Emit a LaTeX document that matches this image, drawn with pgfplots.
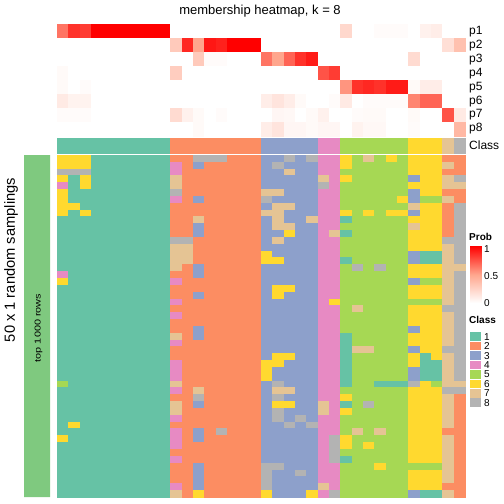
\documentclass[border=0pt]{standalone}
\usepackage{pgfplots}
\pgfplotsset{compat=1.18}
\usepackage{pgfplotstable}
\usepackage{graphicx}
\usepackage{fontspec}
\setmainfont{Liberation Sans}
\definecolor{k1}{RGB}{102,194,165}
\definecolor{k2}{RGB}{252,141,98}
\definecolor{k3}{RGB}{141,160,203}
\definecolor{k4}{RGB}{231,138,195}
\definecolor{k5}{RGB}{166,216,84}
\definecolor{k6}{RGB}{255,217,47}
\definecolor{k7}{RGB}{229,196,148}
\definecolor{k8}{RGB}{179,179,179}
\definecolor{barg}{RGB}{127,201,127}

% membership probabilities: rows p1..p8, columns = samples
\pgfplotstableread{
c0 c1 c2 c3 c4 c5 c6 c7 c8 c9 c10 c11 c12 c13 c14 c15 c16 c17 c18 c19 c20 c21 c22 c23 c24 c25 c26 c27 c28 c29 c30 c31 c32 c33 c34 c35
0.65 0.85 0.82 1 1 1 1 1 1 1 0 0 0 0 0 0 0 0 0 0 0 0 0 0 0 0.22 0 0 0.02 0.02 0.02 0 0.08 0.1 0 0
0 0 0 0 0 0 0 0 0 0 0.3 0.88 0.5 0.93 0.9 1 1 1 0 0 0 0 0 0 0 0 0 0 0 0 0 0 0 0 0.18 0.35
0 0 0 0 0 0 0 0 0 0 0 0 0.3 0.02 0.02 0 0 0 0.65 0.5 0.7 0.85 0.92 0 0 0 0 0 0 0 0 0.2 0 0 0 0
0.03 0 0 0 0 0 0 0 0 0 0.28 0 0 0 0 0 0 0 0 0 0 0 0 0.75 0.82 0 0 0 0 0 0 0 0 0 0 0
0.03 0 0.02 0 0 0 0 0 0 0 0 0 0 0 0 0 0 0 0 0 0 0 0 0 0 0.55 0.85 0.88 0.85 0.92 0.92 0.03 0.1 0.1 0 0
0.12 0.07 0.07 0 0 0 0 0 0 0 0 0 0 0 0 0 0 0 0.1 0.15 0.1 0.03 0 0 0.02 0.12 0 0.02 0.02 0.02 0.02 0.6 0.7 0.7 0 0
0.02 0.02 0.02 0 0 0 0 0 0 0 0.2 0.08 0.03 0 0.02 0 0 0 0 0.05 0.04 0 0.03 0.08 0 0 0.02 0.03 0.03 0 0 0.03 0 0 0.75 0.12
0 0 0 0 0 0 0 0 0 0 0 0 0.03 0 0 0 0 0 0.1 0.15 0.05 0.05 0.03 0.05 0.05 0 0.07 0.04 0.04 0 0 0.02 0 0 0 0.4
}\probtab

% final class of each sample
\pgfplotstableread{
i k
0 1
1 1
2 1
3 1
4 1
5 1
6 1
7 1
8 1
9 1
10 2
11 2
12 2
13 2
14 2
15 2
16 2
17 2
18 3
19 3
20 3
21 3
22 3
23 4
24 4
25 5
26 5
27 5
28 5
29 5
30 5
31 6
32 6
33 6
34 7
35 8
}\classrow

% class in each of 50 random samplings (rows) for each sample (columns)
\pgfplotstableread{
c0 c1 c2 c3 c4 c5 c6 c7 c8 c9 c10 c11 c12 c13 c14 c15 c16 c17 c18 c19 c20 c21 c22 c23 c24 c25 c26 c27 c28 c29 c30 c31 c32 c33 c34 c35
6 6 6 1 1 1 1 1 1 1 2 2 8 8 8 2 2 2 3 3 8 3 8 4 4 6 5 7 5 6 5 6 6 6 2 2
6 6 6 1 1 1 1 1 1 1 4 2 3 2 2 2 2 2 3 8 3 3 3 4 4 6 5 5 5 5 5 6 6 6 7 2
8 8 8 1 1 1 1 1 1 1 4 2 2 2 2 2 2 2 3 3 7 3 3 4 4 5 5 5 5 5 5 6 6 6 2 2
6 1 6 1 1 1 1 1 1 1 7 2 2 2 2 2 2 2 3 3 3 3 3 7 4 6 5 5 5 5 5 3 6 6 7 8
4 1 6 1 1 1 1 1 1 1 7 2 2 2 2 2 2 2 3 3 3 3 3 8 4 5 5 5 5 5 5 6 6 6 7 7
6 1 1 1 1 1 1 1 1 1 8 2 2 2 2 2 2 2 7 7 3 3 3 4 4 5 5 5 5 5 5 3 6 6 2 2
6 1 1 1 1 1 1 1 1 1 4 2 3 2 2 2 2 2 8 3 3 3 3 4 4 5 5 5 5 5 6 3 5 5 7 2
6 6 1 1 1 1 1 1 1 1 2 2 2 2 2 2 2 2 3 7 7 3 3 4 4 5 5 5 5 5 5 7 6 6 2 8
6 1 6 1 1 1 1 1 1 1 2 2 2 2 2 2 2 2 7 7 3 3 3 4 4 6 5 6 5 6 6 3 6 6 2 8
1 1 1 1 1 1 1 1 1 1 2 2 7 2 2 2 2 2 3 7 3 3 7 4 4 1 5 5 5 5 5 6 6 6 2 8
1 1 1 1 1 1 1 1 1 1 2 2 3 2 2 2 2 2 3 7 7 3 3 4 4 5 5 5 5 5 5 7 6 6 2 8
1 1 1 1 1 1 1 1 1 1 2 2 3 2 2 2 2 2 3 3 6 3 3 4 7 1 5 5 5 5 5 6 6 6 2 8
1 1 1 1 1 1 1 1 1 1 8 8 2 2 2 2 2 2 3 7 3 3 3 4 4 5 5 5 5 5 5 6 6 6 8 8
1 1 1 1 1 1 1 1 1 1 7 7 2 2 2 2 2 2 3 3 3 3 3 4 4 5 5 5 5 5 5 6 6 6 7 8
1 1 1 1 1 1 1 1 1 1 7 7 2 2 2 2 2 2 6 3 3 3 3 4 4 5 5 5 5 5 5 3 1 1 7 8
1 1 1 1 1 1 1 1 1 1 7 7 2 2 2 2 2 2 6 6 3 3 3 4 4 1 5 5 5 5 5 3 1 1 7 8
1 1 1 1 1 1 1 1 1 1 7 2 3 2 2 2 2 2 3 3 3 3 3 4 4 5 8 5 8 5 5 6 6 6 7 7
4 1 1 1 1 1 1 1 1 1 2 2 3 2 2 2 2 2 3 3 3 3 3 4 4 5 5 5 5 5 5 6 6 6 7 8
6 1 1 1 1 1 1 1 1 1 4 2 2 2 2 2 2 2 3 3 3 3 3 4 4 5 5 5 5 5 5 3 5 5 7 8
1 1 1 1 1 1 1 1 1 1 2 2 2 2 2 2 2 2 3 6 6 3 3 4 4 5 5 5 5 5 5 6 6 6 7 8
1 1 1 1 1 1 1 1 1 1 2 2 3 2 2 2 2 2 3 6 3 3 3 4 4 5 5 5 5 5 5 6 6 6 7 8
1 1 1 1 1 1 1 1 1 1 4 2 2 2 2 2 2 2 3 3 3 3 3 4 6 5 5 5 5 5 5 5 5 5 7 8
1 1 1 1 1 1 1 1 1 1 2 2 2 2 2 2 2 2 3 3 3 3 3 4 4 5 7 5 5 5 5 6 6 6 8 8
1 1 1 1 1 1 1 1 1 1 4 2 2 2 2 2 2 2 3 3 3 3 3 4 4 5 5 5 5 5 5 6 6 6 7 8
1 1 1 1 1 1 1 1 1 1 2 2 2 2 2 2 2 2 3 3 3 3 3 4 4 5 5 5 5 5 5 6 6 6 7 8
1 1 1 1 1 1 1 1 1 1 2 2 3 2 2 2 2 2 3 3 3 3 3 4 4 5 5 5 5 5 5 3 6 6 7 8
1 1 1 1 1 1 1 1 1 1 7 2 3 2 2 2 2 2 3 3 3 3 3 4 4 1 5 5 5 5 5 6 6 6 7 8
1 1 1 1 1 1 1 1 1 1 4 2 2 2 2 2 2 2 3 3 3 3 3 4 4 1 5 5 5 5 5 6 6 6 7 8
1 1 1 1 1 1 1 1 1 1 2 2 2 2 2 2 2 2 3 3 3 3 3 4 4 1 7 7 5 5 5 3 6 6 8 8
1 1 1 1 1 1 1 1 1 1 2 2 2 2 2 2 2 2 3 6 6 3 3 4 4 1 5 5 5 5 5 6 1 6 7 8
1 1 1 1 1 1 1 1 1 1 4 2 2 2 2 2 2 2 6 6 3 3 3 4 4 1 5 5 5 5 5 6 1 1 7 8
1 1 1 1 1 1 1 1 1 1 4 2 2 2 2 2 2 2 6 3 3 3 3 4 4 1 5 5 5 5 5 3 1 1 7 8
1 1 1 1 1 1 1 1 1 1 4 2 2 2 2 2 2 2 6 3 3 3 3 4 4 1 5 5 5 5 5 3 1 1 7 8
5 1 1 1 1 1 1 1 1 1 7 2 2 2 2 2 2 2 3 8 3 3 3 4 4 1 5 5 1 1 1 8 6 5 7 7
1 1 1 1 1 1 1 1 1 1 4 2 7 2 2 2 2 2 3 7 7 3 3 4 4 5 5 5 5 5 5 6 6 6 8 8
1 1 1 1 1 1 1 1 1 1 2 2 8 2 2 2 2 2 3 8 3 3 3 4 4 6 5 5 5 5 5 6 6 6 7 2
1 1 1 1 1 1 1 1 1 1 7 2 3 2 2 2 2 2 3 6 6 3 3 7 4 1 5 8 5 5 5 6 6 6 7 2
1 1 1 1 1 1 1 1 1 1 7 2 2 2 2 2 2 2 3 8 3 3 3 7 4 6 5 5 5 5 5 6 6 6 7 2
1 1 1 1 1 1 1 1 1 1 4 2 2 2 2 2 2 2 3 8 3 8 3 4 4 5 5 5 5 5 5 6 6 6 7 2
1 6 1 1 1 1 1 1 1 1 2 2 2 2 2 2 2 2 3 3 8 3 8 4 4 5 5 5 5 5 5 6 6 6 7 2
1 1 1 1 1 1 1 1 1 1 4 2 3 2 8 2 2 2 3 3 3 3 3 4 4 5 7 5 7 5 5 6 6 6 2 2
6 1 1 1 1 1 1 1 1 1 4 2 3 2 2 2 2 2 3 3 3 3 3 4 8 6 5 5 5 5 5 6 6 6 7 2
1 1 1 1 1 1 1 1 1 1 4 2 2 2 2 2 2 2 3 3 3 3 3 4 8 6 5 6 5 5 5 6 6 6 7 2
1 1 1 1 1 1 1 1 1 1 2 2 2 2 2 2 2 2 3 3 3 3 3 4 8 5 5 5 5 5 5 6 6 6 7 2
1 1 1 1 1 1 1 1 1 1 4 2 2 2 2 2 2 2 3 3 3 3 3 4 8 1 5 5 5 5 5 6 6 6 7 2
1 1 1 1 1 1 1 1 1 1 2 2 3 2 2 2 2 2 8 8 3 3 3 4 4 5 5 5 6 5 5 5 5 5 7 2
1 1 1 1 1 1 1 1 1 1 2 2 3 2 2 2 2 2 8 3 3 8 3 4 4 5 5 5 5 5 5 6 6 6 7 2
1 1 1 1 1 1 1 1 1 1 2 2 3 2 2 2 2 2 8 3 3 3 3 4 4 5 5 5 5 5 5 6 6 6 7 2
1 1 1 1 1 1 1 1 1 1 4 2 3 2 2 2 2 2 8 3 3 3 3 7 4 5 5 5 5 5 5 6 6 6 2 2
1 1 1 1 1 1 1 1 1 1 7 2 6 2 2 2 2 2 6 3 3 3 6 4 8 5 5 5 5 5 5 3 1 1 7 2
}\classtab

\pgfplotsset{
  clscells/.style={scatter, only marks, scatter src=explicit symbolic, mark=square*, mark size=1pt,
    scatter/classes={
      1={mark=square*,draw=k1,fill=k1},
      2={mark=square*,draw=k2,fill=k2},
      3={mark=square*,draw=k3,fill=k3},
      4={mark=square*,draw=k4,fill=k4},
      5={mark=square*,draw=k5,fill=k5},
      6={mark=square*,draw=k6,fill=k6},
      7={mark=square*,draw=k7,fill=k7},
      8={mark=square*,draw=k8,fill=k8}}},
}

\begin{document}
\begin{tikzpicture}
\useasboundingbox (0,0) rectangle (504pt,504pt);
\begin{axis}[at={(0pt,0pt)}, anchor=south west, width=504pt, height=504pt, scale only axis,
  xmin=0, xmax=504, ymin=0, ymax=504, y dir=reverse, hide axis, clip=false,
  colormap={probmap}{rgb255=(255,255,255) rgb255=(255,166,141) rgb255=(255,0,0)},
  point meta min=0, point meta max=1]

% left annotation bar
\addplot[fill=barg, draw=none] coordinates {(24,155) (50,155) (50,497) (24,497) (24,155)};

% probability heatmap
\pgfplotsinvokeforeach{0,...,35}{
  \addplot[scatter, only marks, scatter src=explicit, mark=square*, mark size=1pt,
    scatter/use mapped color={draw=mapped color, fill=mapped color},
    mark options={xscale=5.72, yscale=7.0, line width=0.2pt}]
    table[x expr={57+11.333*(#1+0.5)}, y expr={24.3+13.96*(\coordindex+0.5)}, meta=c#1] {\probtab};
}

% class row
\addplot[clscells, mark options={xscale=5.72, yscale=7.35, line width=0.2pt}]
  table[x expr={57+11.333*(\thisrow{i}+0.5)}, y expr={145.35}, meta=k] {\classrow};

% sampling matrix
\pgfplotsinvokeforeach{0,...,35}{
  \addplot[clscells, mark options={xscale=5.72, yscale=3.46, line width=0.2pt}]
    table[x expr={57+11.333*(#1+0.5)}, y expr={155+6.84*(\coordindex+0.5)}, meta=c#1] {\classtab};
}

% colour bar
\addplot[surf, shader=interp, point meta=explicit, mesh/cols=2]
  coordinates {(470,303) [0] (481,303) [0] (470,246) [1] (481,246) [1]};

% texts
\node[font=\fontsize{13}{15}\selectfont] at (260,11) {membership heatmap, k = 8};
\pgfplotsinvokeforeach{1,...,8}{
  \node[anchor=west, font=\fontsize{12}{14}\selectfont, inner sep=0pt] at (469,{24.3+13.96*(#1-0.5)}) {p#1};
}
\node[anchor=west, font=\fontsize{12}{14}\selectfont, inner sep=0pt] at (469,145.4) {Class};
\node[rotate=90, font=\fontsize{14.7}{17}\selectfont] at (11,260) {50 x 1 random samplings};
\node[rotate=90, font=\fontsize{8.5}{10}\selectfont] at (38.5,328) {\scalebox{1.28}[1]{top 1000 rows}};

\node[anchor=west, font=\bfseries\fontsize{10}{12}\selectfont, inner sep=0pt] at (469,237) {Prob};
\node[anchor=west, font=\fontsize{10}{12}\selectfont, inner sep=0pt] at (484,249) {1};
\node[anchor=west, font=\fontsize{10}{12}\selectfont, inner sep=0pt] at (484,276) {0.5};
\node[anchor=west, font=\fontsize{10}{12}\selectfont, inner sep=0pt] at (484,303) {0};

\node[anchor=west, font=\bfseries\fontsize{10}{12}\selectfont, inner sep=0pt] at (469,320) {Class};
\pgfplotsinvokeforeach{1,...,8}{
  \fill[k#1] (470,{336.7+9.43*(#1-1)-4.3}) rectangle (481,{336.7+9.43*(#1-1)+4.3});
  \node[anchor=west, font=\fontsize{10}{12}\selectfont, inner sep=0pt] at (484,{336.7+9.43*(#1-1)}) {#1};
}
\end{axis}
\end{tikzpicture}
\end{document}
